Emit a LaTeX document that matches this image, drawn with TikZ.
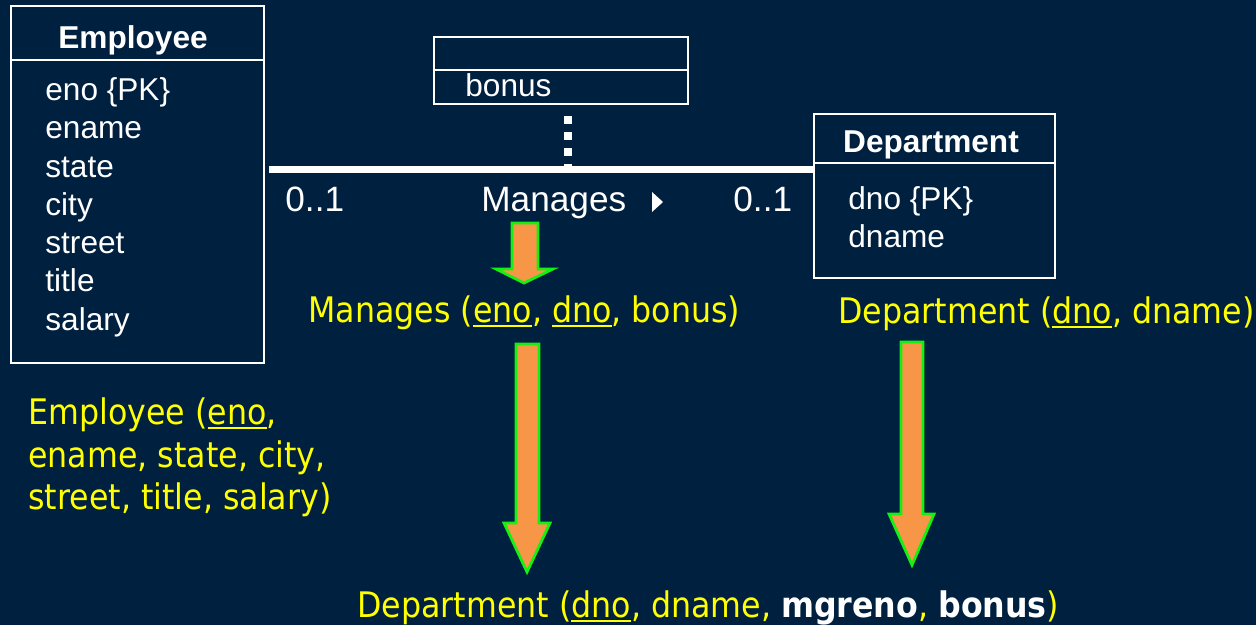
\documentclass[tikz,border=0pt]{standalone}
\usepackage{fontspec}
\setmainfont{Liberation Sans}
\newfontfamily\tahoma{DejaVu Sans Condensed}

\definecolor{slidebg}{RGB}{0,32,64}
\definecolor{keyyellow}{RGB}{255,255,0}
\definecolor{arroworange}{RGB}{247,150,70}
\definecolor{arrowgreen}{RGB}{20,240,20}

\newsavebox{\pkbox}
\newcommand{\pkey}[1]{\savebox{\pkbox}{#1}\rlap{\rule[-2.6pt]{\wd\pkbox}{1.3pt}}\usebox{\pkbox}}

\begin{document}
\begin{tikzpicture}[x=0.5pt, y=-0.5pt,
    umlbox/.style={draw=white, line width=0.9pt, inner sep=0pt, anchor=north west},
    attr/.style={text=white, font=\fontsize{15.8}{19}\selectfont, anchor=base west, inner sep=0pt},
    heading/.style={attr, font=\fontsize{15.8}{19}\selectfont\bfseries, anchor=base},
    assoclabel/.style={attr, font=\fontsize{17.6}{21}\selectfont},
    relation/.style={text=keyyellow, font=\tahoma\fontsize{17.6}{21}\selectfont, anchor=base west, inner sep=0pt},
    blockarrow/.style={fill=arroworange, draw=arrowgreen, line width=1.4pt, line join=miter}]
    \fill[slidebg] (0,0) rectangle (1256,625);

    % Employee class
    \node[umlbox, minimum width=126.5pt, minimum height=178.5pt] (emp) at (10,5) {};
    \draw[white, line width=0.9pt] (10,60) -- (263,60);
    \node[heading] (emptitle) at (133,49) {Employee};
    \foreach \a [count=\i] in {eno \{PK\}, ename, state, city, street, title, salary}
        \node[attr] (empattr\i) at (45, {62.2 + 38.3*\i}) {\a};

    % association class
    \node[umlbox, minimum width=127pt, minimum height=33.5pt] (assoc) at (433,36) {};
    \draw[white, line width=0.9pt] (433,70) -- (687,70);
    \node[attr] (bonus) at (465,97) {bonus};

    % Department class
    \node[umlbox, minimum width=120.5pt, minimum height=82pt] (dept) at (813,113) {};
    \draw[white, line width=0.9pt] (813,163) -- (1054,163);
    \node[heading] (depttitle) at (931,153) {Department};
    \node[attr] (deptattr1) at (848,210) {dno \{PK\}};
    \node[attr] (deptattr2) at (848,248) {dname};

    % association
    \coordinate (mid) at (568,169.5);
    \draw[white, line width=3.5pt, shorten <=2pt] (emp.east |- mid) -- (dept.west |- mid);
    \draw[white, line width=4pt, dash pattern=on 4pt off 4pt, shorten <=5.5pt] (mid |- assoc.south) -- (mid);
    \node[assoclabel] (multleft) at (285,212) {0..1};
    \node[assoclabel] (assocname) at (481,212) {Manages};
    \fill[white] (652,192) -- (663,202) -- (652,212) -- cycle;
    \node[assoclabel] (multright) at (733,212) {0..1};

    % relations
    \node[relation] (relmanages) at (308,322) {Manages (\pkey{eno}, \pkey{dno}, bonus)};
    \node[relation] (reldept) at (838,323) {Department (\pkey{dno}, dname)};
    \node[relation] (relemp1) at (28,424) {Employee (\pkey{eno},};
    \node[relation] (relemp2) at (28,467) {ename, state, city,};
    \node[relation] (relemp3) at (28,509) {street, title, salary)};
    \node[relation] (relfinal) at (357,617) {Department (\pkey{dno}, dname, {\color{white}\bfseries mgreno}, {\color{white}\bfseries bonus})};

    % mapping arrows
    \draw[blockarrow] (512,223) -- (538,223) -- (538,269) -- (553,269) -- (524,283) -- (496,269) -- (512,269) -- cycle;
    \draw[blockarrow] (516,344) -- (539,344) -- (539,523) -- (550,523) -- (527,572) -- (504,523) -- (516,523) -- cycle;
    \draw[blockarrow] (901,342) -- (923,342) -- (923,514) -- (934,514) -- (912,565) -- (889,514) -- (901,514) -- cycle;
\end{tikzpicture}
\end{document}
